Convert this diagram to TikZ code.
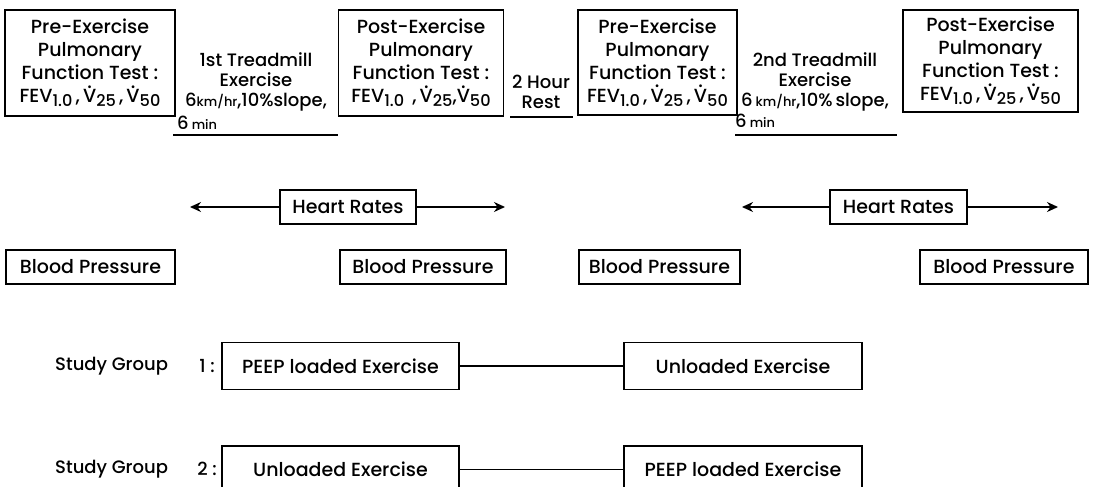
\documentclass[tikz,border=0pt]{standalone}
\usepackage{fontspec}
\setmainfont{Poppins Medium}
\usepackage{graphicx}
\usetikzlibrary{arrows.meta}
\newcommand{\vdt}{\ooalign{V\cr\hidewidth\smash{\raisebox{0.78em}{.}}\hidewidth\cr}}
\newcommand{\sbs}[1]{\raisebox{-0.35ex}{\scalebox{0.85}{#1}}}
\newcommand{\smt}[1]{\scalebox{0.72}{#1}}
\begin{document}
\begin{tikzpicture}[x=1pt,y=-1pt,
  box/.style={draw,line width=1.4pt,inner sep=0pt,align=center,font=\fontsize{19}{23}\selectfont},
  plain/.style={inner sep=0pt,align=center,font=\fontsize{18}{20}\selectfont},
  lbl/.style={inner sep=0pt,font=\fontsize{18}{20}\selectfont},
  ln/.style={line width=1.4pt},
  sg/.style={box,font=\fontsize{19}{20}\selectfont},
  hr/.style={line width=1.6pt,-{Stealth[length=11pt,width=10pt]}}]
\useasboundingbox (0,0) rectangle (1093,487);
% top row
\node[box,minimum width=170pt,minimum height=106pt] (preA) at (90,63)
  {Pre-Exercise\\Pulmonary\\Function Test :\\FEV\sbs{1.0}\,,\,\vdt\sbs{25}\,,\,\vdt\sbs{50}};
\node[plain] (tm1) at (256,82) {1st Treadmill\\Exercise\\6\smt{km/hr},10\%slope,};
\node[plain,anchor=west] (tm1b) at (177,123) {6\,\smt{min}};
\coordinate (u1a) at (173,135); \coordinate (u1b) at (338,135);
\draw[ln] (u1a) -- (u1b);
\node[box,minimum width=165pt,minimum height=106pt] (postB) at (421,63)
  {Post-Exercise\\Pulmonary\\Function Test :\\FEV\sbs{1.0}\, ,\,\vdt\sbs{25},\vdt\sbs{50}};
\node[plain] (rest) at (541,92) {2 Hour\\Rest};
\coordinate (u2a) at (510,117); \coordinate (u2b) at (573,117);
\draw[ln] (u2a) -- (u2b);
\node[box,minimum width=159pt,minimum height=105pt] (preC) at (657.5,62.5)
  {Pre-Exercise\\Pulmonary\\Function Test :\\FEV\sbs{1.0}\,,\,\vdt\sbs{25}\,,\,\vdt\sbs{50}};
\node[plain] (tm2) at (815,82) {2nd Treadmill\\Exercise\\6\,\smt{km/hr},10\%\,slope,};
\node[plain,anchor=west] (tm2b) at (735,121) {6\,\smt{min}};
\coordinate (u3a) at (735,135); \coordinate (u3b) at (897,135);
\draw[ln] (u3a) -- (u3b);
\node[box,minimum width=175pt,minimum height=102pt] (postD) at (990.5,61)
  {Post-Exercise\\Pulmonary\\Function Test :\\FEV\sbs{1.0}\,,\,\vdt\sbs{25}\,,\,\vdt\sbs{50}};
% heart rates
\node[box,minimum width=136pt,minimum height=34pt] (hr1) at (348,207) {Heart Rates};
\coordinate (h1l) at (190,207); \coordinate (h1r) at (505,207);
\draw[hr] (hr1.west) -- (h1l);
\draw[hr] (hr1.east) -- (h1r);
\node[box,minimum width=137pt,minimum height=34pt] (hr2) at (898.5,207) {Heart Rates};
\coordinate (h2l) at (742,207); \coordinate (h2r) at (1058,207);
\draw[hr] (hr2.west) -- (h2l);
\draw[hr] (hr2.east) -- (h2r);
% blood pressure
\node[box,minimum width=169pt,minimum height=34pt] (bp1) at (90.5,267) {Blood Pressure};
\node[box,minimum width=166pt,minimum height=34pt] (bp2) at (423,267) {Blood Pressure};
\node[box,minimum width=161pt,minimum height=34pt] (bp3) at (659.5,267) {Blood Pressure};
\node[box,minimum width=168pt,minimum height=34pt] (bp4) at (1004,267) {Blood Pressure};
% study groups
\node[lbl,anchor=west] (sg1) at (55,366) {Study Group};
\node[lbl] (sg1n) at (207,366) {1 :};
\node[sg,minimum width=237pt,minimum height=47pt] (peep1) at (340.5,366) {PEEP loaded Exercise};
\node[sg,minimum width=238pt,minimum height=47pt] (unl1) at (743,366) {Unloaded Exercise};
\draw[ln] (peep1) -- (unl1);
\node[lbl,anchor=west] (sg2) at (55,469) {Study Group};
\node[lbl] (sg2n) at (207,469) {2 :};
\node[sg,minimum width=237pt,minimum height=47pt] (unl2) at (340.5,469.5) {Unloaded Exercise};
\node[sg,minimum width=238pt,minimum height=47pt] (peep2) at (743,469.5) {PEEP loaded Exercise};
\draw[ln] (unl2) -- (peep2);
\end{tikzpicture}
\end{document}
